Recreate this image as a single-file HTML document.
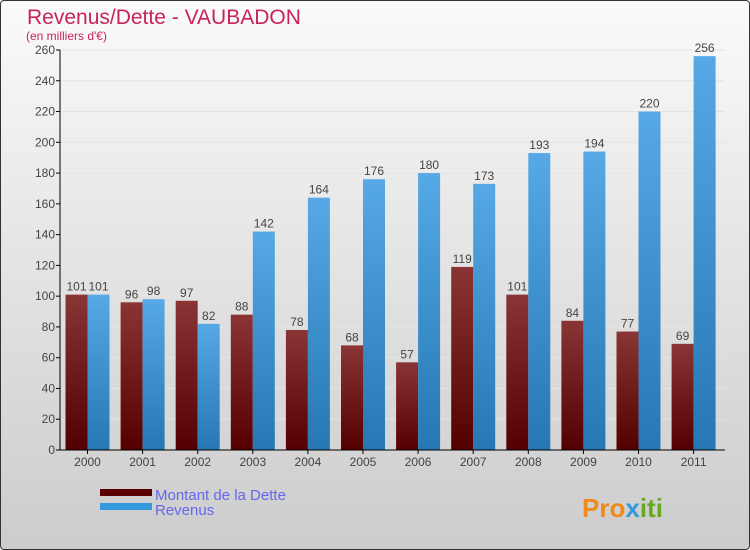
<!DOCTYPE html>
<html><head><meta charset="utf-8"><style>
body{margin:0;width:750px;height:550px;overflow:hidden;font-family:"Liberation Sans",sans-serif}
#wrap{position:absolute;left:0;top:0;width:748px;height:548px;border:1px solid #333;border-radius:4px;background:linear-gradient(#fafafa,#cccccc)}
</style></head><body>
<div id="wrap">
<svg width="750" height="550" id="svg" style="position:absolute;left:-1px;top:-1px">
<defs>
<linearGradient id="gD" x1="0" y1="0" x2="0" y2="1"><stop offset="0" stop-color="#8a3535"/><stop offset="1" stop-color="#540000"/></linearGradient>
<linearGradient id="gR" x1="0" y1="0" x2="0" y2="1"><stop offset="0" stop-color="#56a9e6"/><stop offset="1" stop-color="#2677b3"/></linearGradient>
</defs>
<text x="27" y="24" font-size="21" fill="#c8245a">Revenus/Dette - VAUBADON</text>
<text x="26" y="40" font-size="12" fill="#c8245a">(en milliers d'€)</text>
<g id="plot"></g>
<rect x="100" y="489" width="52" height="7" fill="#5a0000"/>
<rect x="100" y="503" width="52" height="7" fill="#3399dd"/>
<text x="155" y="500" font-size="15" fill="#6666ee">Montant de la Dette</text>
<text x="155" y="515" font-size="15" fill="#6666ee">Revenus</text>
<text x="582" y="517" font-size="26" font-weight="bold" fill="#f08a1a">Pro<tspan fill="#3399dd">x</tspan><tspan fill="#66aa22">iti</tspan></text>
</svg></div>
<script>
const years=["2000","2001","2002","2003","2004","2005","2006","2007","2008","2009","2010","2011"];
const dette=[101,96,97,88,78,68,57,119,101,84,77,69];
const revenus=[101,98,82,142,164,176,180,173,193,194,220,256];
const ticks=[0,20,40,60,80,100,120,140,160,180,200,220,240,260];
const NS="http://www.w3.org/2000/svg";
const g=document.getElementById('plot');
const x0=60,y0=450,yTop=50,vmax=260,step=55.1,firstC=87.5,bw=22;
const y=v=>y0-(v/vmax)*(y0-yTop);
function el(t,a){const e=document.createElementNS(NS,t);for(const k in a)e.setAttribute(k,a[k]);g.appendChild(e);return e;}
ticks.forEach(t=>{
 const l=el('line',{x1:x0-4,x2:x0,y1:y(t),y2:y(t),stroke:'#000'});
 
 
 if(t>0){const gl=el('line',{x1:x0,x2:725,y1:y(t),y2:y(t),stroke:'#e4e4e4'});
 
 }
 const tx=el('text',{x:x0-5,y:y(t)+4,'font-size':12,'text-anchor':'end',fill:'#444'});tx.textContent=t;
 
 
});
years.forEach((yr,i)=>{
 const c=firstC+i*step;
 const b1=el('rect',{x:c-bw,y:y(dette[i]),width:bw,height:y0-y(dette[i]),fill:'url(#gD)'});
 
 
 const b2=el('rect',{x:c,y:y(revenus[i]),width:bw,height:y0-y(revenus[i]),fill:'url(#gR)'});
 
 
 const l1=el('text',{x:c-bw/2,y:y(dette[i])-4,'font-size':12,'text-anchor':'middle',fill:'#444'});l1.textContent=dette[i];
 
 
 const l2=el('text',{x:c+bw/2,y:y(revenus[i])-4,'font-size':12,'text-anchor':'middle',fill:'#444'});l2.textContent=revenus[i];
 
 
 const xt=el('line',{x1:c,x2:c,y1:y0,y2:y0+4,stroke:'#000'});
 
 
 const xl=el('text',{x:c,y:y0+16,'font-size':12,'text-anchor':'middle',fill:'#444'});xl.textContent=yr;
 
 
});
const ax=el('line',{x1:x0,x2:x0,y1:yTop,y2:y0,stroke:'#000'});


const bx=el('line',{x1:x0,x2:725,y1:y0,y2:y0,stroke:'#000'});


</script>
</body></html>
